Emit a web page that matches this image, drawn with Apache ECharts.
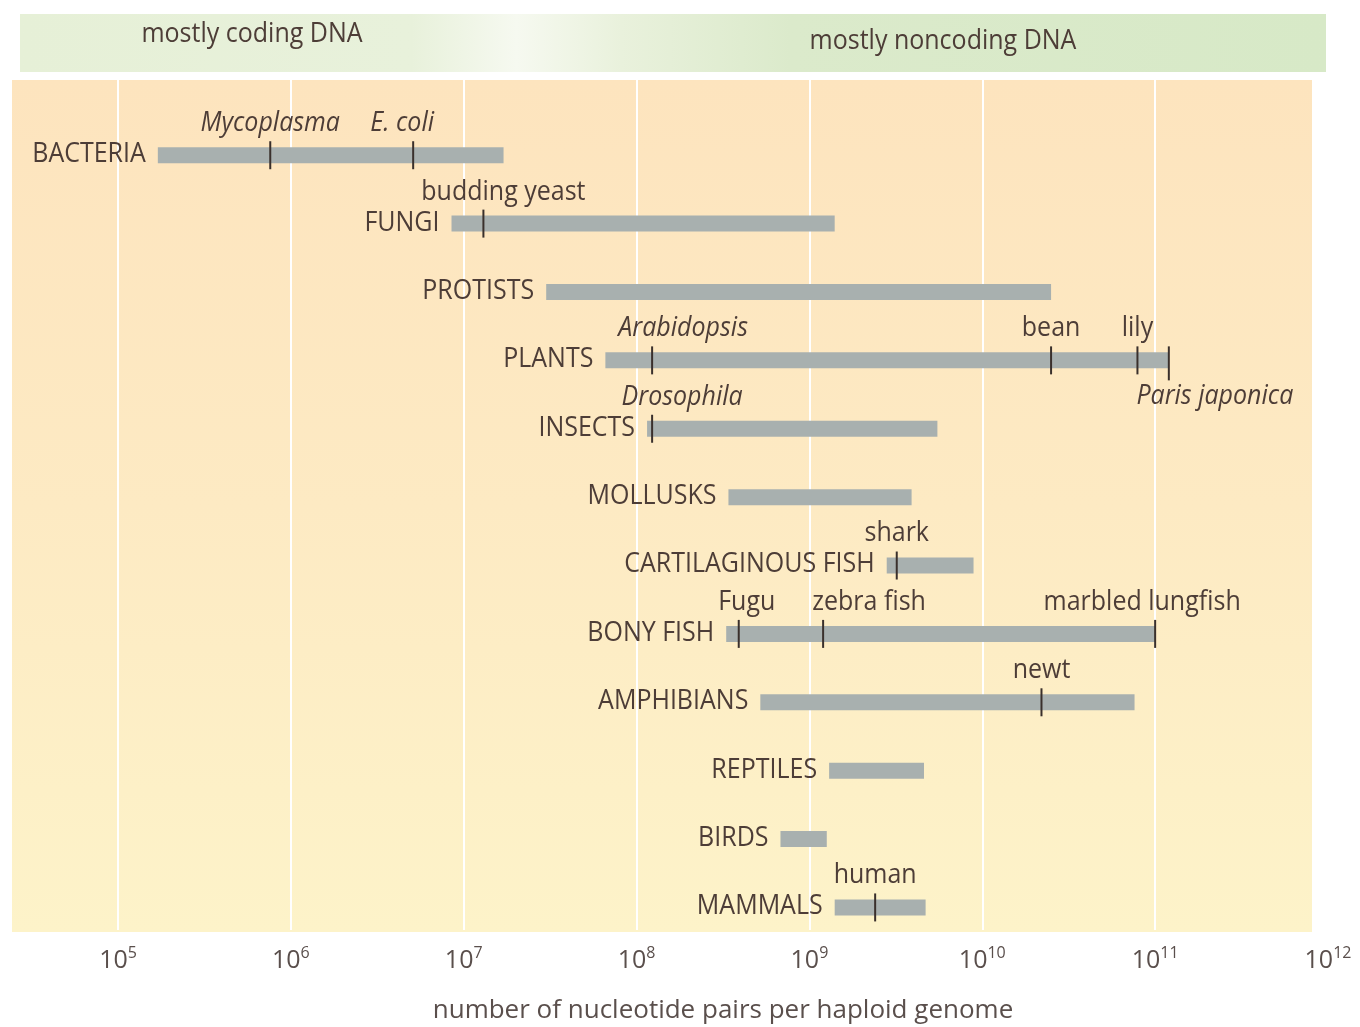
<!DOCTYPE html>
<html>
<head>
<meta charset="utf-8">
<script src="https://cdn.jsdelivr.net/npm/echarts@6/dist/echarts.min.js"></script>
<style>
  html, body { margin: 0; padding: 0; background: #ffffff; }
  #chart { width: 1360px; height: 1027px; }
</style>
</head>
<body>
<div id="chart"></div>
<script>
// groups, top to bottom
const groups = ['BACTERIA', 'FUNGI', 'PROTISTS', 'PLANTS', 'INSECTS', 'MOLLUSKS',
  'CARTILAGINOUS FISH', 'BONY FISH', 'AMPHIBIANS', 'REPTILES', 'BIRDS', 'MAMMALS']
// genome size range per group (nucleotide pairs)
const rangeLow = [1.7e5, 8.5e6, 3.0e7, 6.6e7, 1.15e8, 3.4e8, 2.8e9, 3.3e8, 5.2e8, 1.3e9, 6.8e8, 1.4e9]
const rangeHigh = [1.7e7, 1.4e9, 2.5e10, 1.2e11, 5.5e9, 3.9e9, 8.9e9, 1.0e11, 7.6e10, 4.6e9, 1.26e9, 4.7e9]

// single organisms marked on the bars
const organisms = ['Mycoplasma', 'E. coli', 'budding yeast', 'Arabidopsis', 'bean', 'lily',
  'Paris japonica', 'Drosophila', 'shark', 'Fugu', 'zebra fish', 'marbled lungfish', 'newt', 'human']
const organismGroup = [0, 0, 1, 3, 3, 3, 3, 4, 6, 7, 7, 7, 8, 11]
const organismSize = [7.6e5, 5.1e6, 1.3e7, 1.23e8, 2.5e10, 7.9e10, 1.2e11, 1.23e8, 3.2e9,
  3.9e8, 1.2e9, 1.0e11, 2.2e10, 2.4e9]

// label styling (not data)
const italicNames = ['Mycoplasma', 'E. coli', 'Arabidopsis', 'Drosophila', 'Paris japonica']
const labelBelow = ['Paris japonica']
const labelShift = { 'E. coli': -11, 'budding yeast': 20, 'Arabidopsis': 31, 'Paris japonica': 46,
  'Drosophila': 30, 'Fugu': 8, 'zebra fish': 46, 'marbled lungfish': -13 }

const FONT = '"Open Sans", "DejaVu Sans", sans-serif'
const TEXT_COLOR = '#4d3d37'
const BAR_COLOR = '#a8b0af'
const TEXT_SCALE_Y = 1.12

const chart = echarts.init(document.getElementById('chart'))

// custom bar: grey range bar plus group name on its left
const renderRange = (params, api) => {
  const start = api.coord([api.value(1), api.value(0)])
  const end = api.coord([api.value(2), api.value(0)])
  const h = 16
  return {
    type: 'group',
    children: [
      {
        type: 'rect',
        shape: { x: start[0], y: start[1] - h / 2, width: end[0] - start[0], height: h },
        style: { fill: BAR_COLOR }
      },
      {
        type: 'text',
        x: start[0] - 12,
        y: start[1] - 1,
        scaleY: TEXT_SCALE_Y,
        style: {
          text: groups[params.dataIndex],
          x: 0, y: 0,
          align: 'right',
          verticalAlign: 'middle',
          font: '25px ' + FONT,
          fill: TEXT_COLOR
        }
      }
    ]
  }
}

// custom tick: short dark line through the bar with the organism name
const renderMarker = (params, api) => {
  const p = api.coord([api.value(0), api.value(1)])
  const name = organisms[params.dataIndex]
  const below = labelBelow.indexOf(name) >= 0
  const italic = italicNames.indexOf(name) >= 0
  const shift = labelShift[name] || 0
  return {
    type: 'group',
    children: [
      {
        type: 'line',
        shape: { x1: p[0], y1: p[1] - 14, x2: p[0], y2: p[1] + (below ? 20 : 14) },
        style: { stroke: '#3a302c', lineWidth: 2 }
      },
      {
        type: 'text',
        x: p[0] + shift,
        y: below ? p[1] + 36 : p[1] - 32,
        scaleY: TEXT_SCALE_Y,
        style: {
          text: name,
          x: 0, y: 0,
          align: 'center',
          verticalAlign: 'middle',
          font: (italic ? 'italic ' : '') + '25px ' + FONT,
          fill: TEXT_COLOR
        }
      }
    ]
  }
}

const rangeData = groups.map((g, i) => [i, rangeLow[i], rangeHigh[i]])
const markerData = organisms.map((o, i) => [organismSize[i], organismGroup[i]])

const option = {
  animation: false,
  backgroundColor: '#ffffff',
  grid: { left: 118, right: 32, top: 80, bottom: 97, outerBoundsMode: 'none' },
  graphic: [
    {
      // green header band
      type: 'rect', z: -10, silent: true,
      shape: { x: 20, y: 14, width: 1306, height: 58 },
      style: {
        fill: new echarts.graphic.LinearGradient(0, 0, 1, 0, [
          { offset: 0, color: '#e6f0d7' },
          { offset: 0.3, color: '#e8f1db' },
          { offset: 0.38, color: '#f6f9f0' },
          { offset: 0.46, color: '#e9f1dc' },
          { offset: 0.59, color: '#dbeacb' },
          { offset: 1, color: '#d7e9c7' }
        ])
      }
    },
    {
      // orange/yellow plot panel
      type: 'rect', z: -10, silent: true,
      shape: { x: 12, y: 80, width: 1300, height: 852 },
      style: {
        fill: new echarts.graphic.LinearGradient(0, 0, 0, 1, [
          { offset: 0, color: '#fde4be' },
          { offset: 0.5, color: '#fdeac3' },
          { offset: 1, color: '#fdf3c9' }
        ])
      }
    },
    {
      type: 'text', z: 5, silent: true,
      x: 252, y: 34, scaleY: TEXT_SCALE_Y,
      style: { text: 'mostly coding DNA', x: 0, y: 0, align: 'center', verticalAlign: 'middle',
        font: '25px ' + FONT, fill: TEXT_COLOR }
    },
    {
      type: 'text', z: 5, silent: true,
      x: 943, y: 41, scaleY: TEXT_SCALE_Y,
      style: { text: 'mostly noncoding DNA', x: 0, y: 0, align: 'center', verticalAlign: 'middle',
        font: '25px ' + FONT, fill: TEXT_COLOR }
    }
  ],
  xAxis: {
    type: 'log',
    logBase: 10,
    min: 1e5,
    max: 1e12,
    axisLine: { show: false },
    axisTick: { show: false },
    splitLine: { show: true, lineStyle: { color: '#ffffff', width: 2 } },
    axisLabel: {
      margin: 15,
      formatter: (v) => '{b|10}{s|' + Math.round(Math.log10(v)) + '}',
      rich: {
        b: { fontFamily: FONT, fontSize: 25, color: '#5a4f4c' },
        s: { fontFamily: FONT, fontSize: 16, color: '#5a4f4c', padding: [0, 0, 16, 0] }
      }
    },
    name: 'number of nucleotide pairs per haploid genome',
    nameLocation: 'middle',
    nameGap: 68,
    nameTextStyle: { fontFamily: FONT, fontSize: 26, color: '#5a4f4c' }
  },
  yAxis: {
    type: 'value',
    inverse: true,
    min: -1.1,
    max: 11.33,
    show: false
  },
  series: [
    {
      name: 'range',
      type: 'custom',
      renderItem: renderRange,
      encode: { x: [1, 2], y: 0 },
      data: rangeData
    },
    {
      name: 'organisms',
      type: 'custom',
      renderItem: renderMarker,
      encode: { x: 0, y: 1 },
      data: markerData,
      z: 3
    }
  ]
}

chart.setOption(option)
</script>
</body>
</html>
